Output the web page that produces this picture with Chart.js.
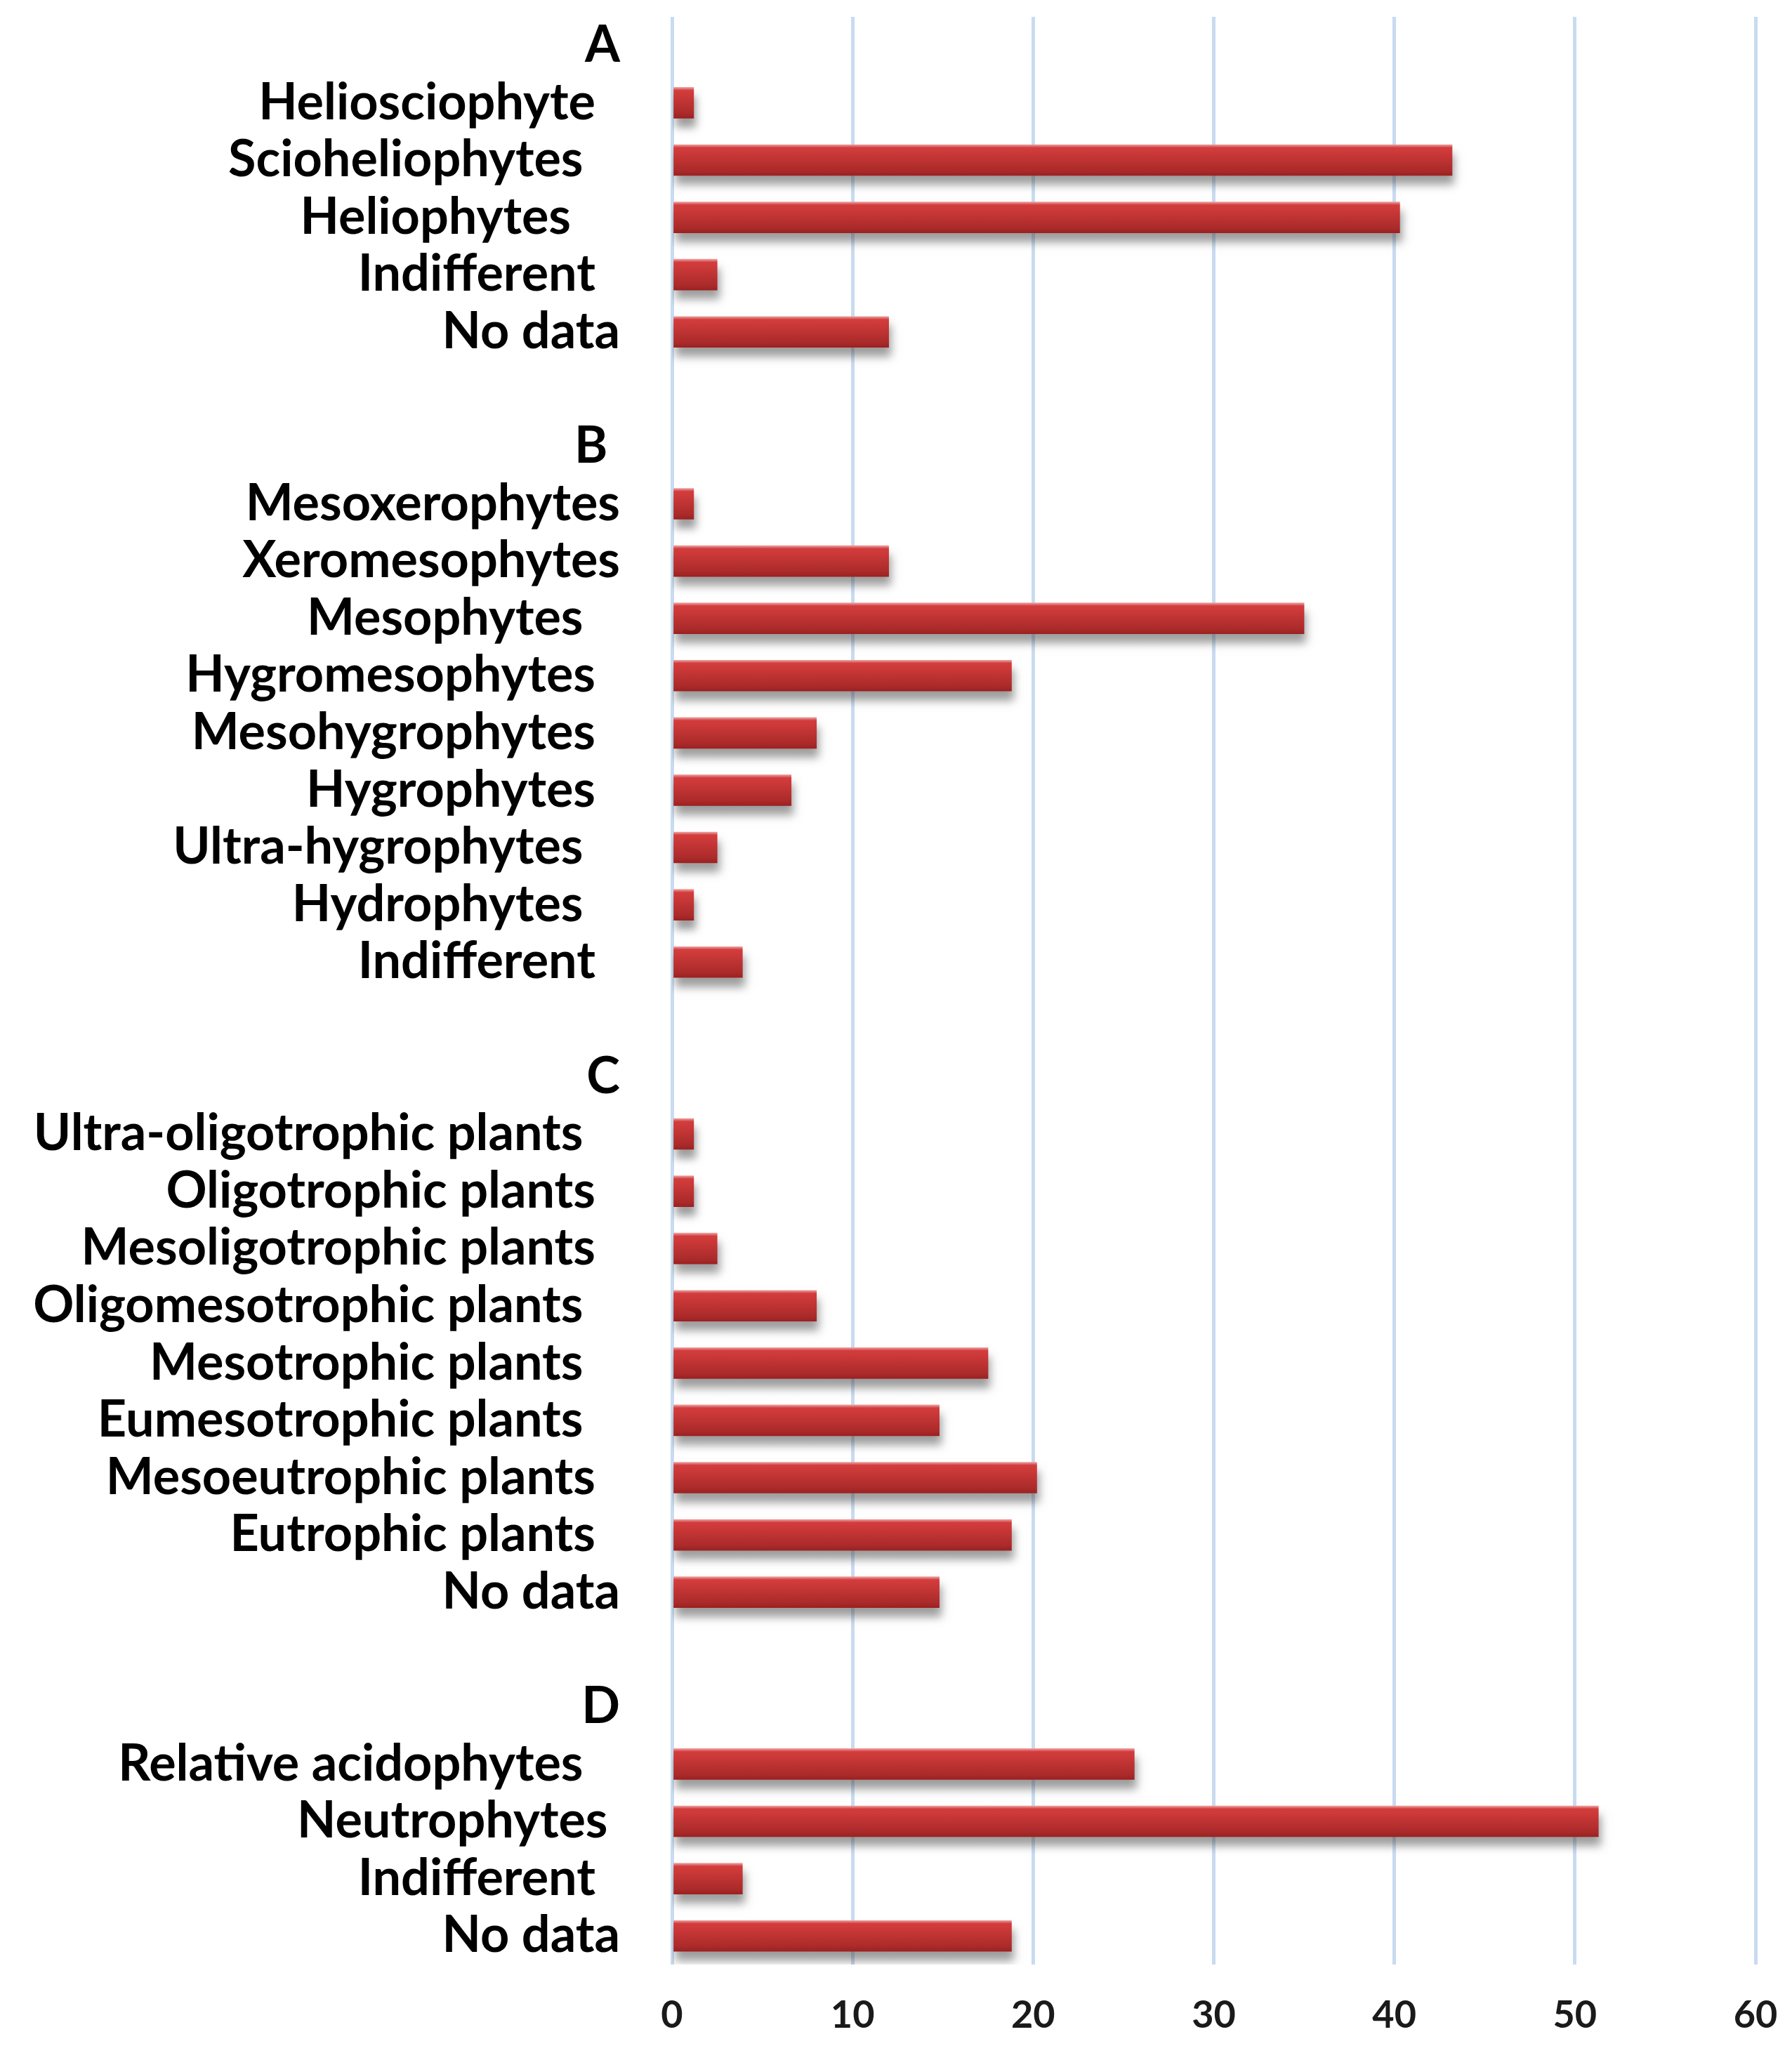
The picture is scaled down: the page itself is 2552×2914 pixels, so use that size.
<!DOCTYPE html>
<html>
<head>
<meta charset="utf-8">
<script src="https://cdn.jsdelivr.net/npm/chart.js@4.4.1/dist/chart.umd.min.js"></script>
<style>
  html, body { margin: 0; padding: 0; background: #fff; }
  canvas { display: block; }
</style>
</head>
<body>
<canvas id="myChart" width="2552" height="2914"></canvas>
<script>
// ecological groups, one row per category, blank rows between blocks
const categories = [
  'A', 'Heliosciophyte', 'Scioheliophytes', 'Heliophytes', 'Indifferent', 'No data', '',
  'B', 'Mesoxerophytes', 'Xeromesophytes', 'Mesophytes', 'Hygromesophytes', 'Mesohygrophytes',
  'Hygrophytes', 'Ultra-hygrophytes', 'Hydrophytes', 'Indifferent', '',
  'C', 'Ultra-oligotrophic plants', 'Oligotrophic plants', 'Mesoligotrophic plants',
  'Oligomesotrophic plants', 'Mesotrophic plants', 'Eumesotrophic plants',
  'Mesoeutrophic plants', 'Eutrophic plants', 'No data', '',
  'D', 'Relative acidophytes', 'Neutrophytes', 'Indifferent', 'No data',
];
const percents = [
  null, 1.2, 43.2, 40.3, 2.5, 12.0, null,
  null, 1.2, 12.0, 35.0, 18.8, 8.0, 6.6, 2.5, 1.2, 3.9, null,
  null, 1.2, 1.2, 2.5, 8.0, 17.5, 14.8, 20.2, 18.8, 14.8, null,
  null, 25.6, 51.3, 3.9, 18.8,
];
const xTicks = [0, 10, 20, 30, 40, 50, 60];

// ragged right edge of the labels in the original (trailing blanks)
const labelIndent = [
  0, 2, 3, 4, 2, 0, 0,
  1, 0, 0, 3, 2, 2, 2, 3, 3, 2, 0,
  0, 3, 2, 2, 3, 3, 3, 2, 2, 0, 0,
  0, 3, 1, 2, 0,
];

const labelFont = { family: 'Lato', size: 72, weight: 'bold' };
const tickFont = { family: 'Lato', size: 54, weight: 'bold' };
const gridBlue = '#c9dbf0';
const barH = 44;

const measureCtx = document.createElement('canvas').getContext('2d');
measureCtx.font = 'bold 72px Lato';
const spaceW = measureCtx.measureText(' ').width || 14;

function barFill(ctx) {
  const chart = ctx.chart;
  const yScale = chart.scales.y;
  if (!chart.chartArea || !yScale || ctx.dataIndex === undefined) return '#c43333';
  const yc = yScale.getPixelForValue(ctx.dataIndex);
  if (!isFinite(yc)) return '#c43333';
  const g = chart.ctx.createLinearGradient(0, yc - barH / 2, 0, yc + barH / 2);
  g.addColorStop(0, '#eea0a0');
  g.addColorStop(0.1, '#d23c3c');
  g.addColorStop(0.25, '#cd3939');
  g.addColorStop(0.85, '#aa2a2a');
  g.addColorStop(1, '#9c2020');
  return g;
}

const barShadow = {
  id: 'barShadow',
  beforeDatasetsDraw(chart) {
    const c = chart.ctx;
    c.save();
    c.shadowColor = 'rgba(60,60,60,0.5)';
    c.shadowBlur = 12;
    c.shadowOffsetX = 3;
    c.shadowOffsetY = 13;
  },
  afterDatasetsDraw(chart) {
    chart.ctx.restore();
  },
};

const config = {
  type: 'bar',
  data: {
    labels: categories,
    datasets: [{
      data: percents,
      backgroundColor: barFill,
      borderWidth: 0,
      barThickness: barH,
    }],
  },
  options: {
    indexAxis: 'y',
    responsive: false,
    animation: false,
    devicePixelRatio: 1,
    layout: { padding: { top: 24, right: 52, left: 0, bottom: 0 } },
    plugins: {
      legend: { display: false },
      tooltip: { enabled: false },
    },
    scales: {
      y: {
        grid: { display: false },
        border: { display: false },
        ticks: {
          autoSkip: false,
          padding: 66,
          color: '#000',
          font: labelFont,
          callback: function (value, index) {
            const n = Math.round(labelIndent[index] * 17.7 / spaceW);
            return categories[index] + ' '.repeat(n);
          },
        },
        afterFit(scale) {
          scale.width = 957;
          scale.paddingTop = 0;
          scale.paddingBottom = 0;
        },
      },
      x: {
        min: 0,
        max: 60,
        afterBuildTicks(scale) { scale.ticks = xTicks.map(v => ({ value: v })); },
        grid: { color: gridBlue, lineWidth: 5, drawTicks: false },
        border: { display: false },
        ticks: {
          padding: 40,
          color: '#1a1a1a',
          font: tickFont,
        },
        afterFit(scale) {
          scale.height = 116;
          scale.paddingLeft = 0;
          scale.paddingRight = 0;
        },
      },
    },
  },
  plugins: [barShadow],
};

const myChart = new Chart(document.getElementById('myChart'), config);
</script>
</body>
</html>
